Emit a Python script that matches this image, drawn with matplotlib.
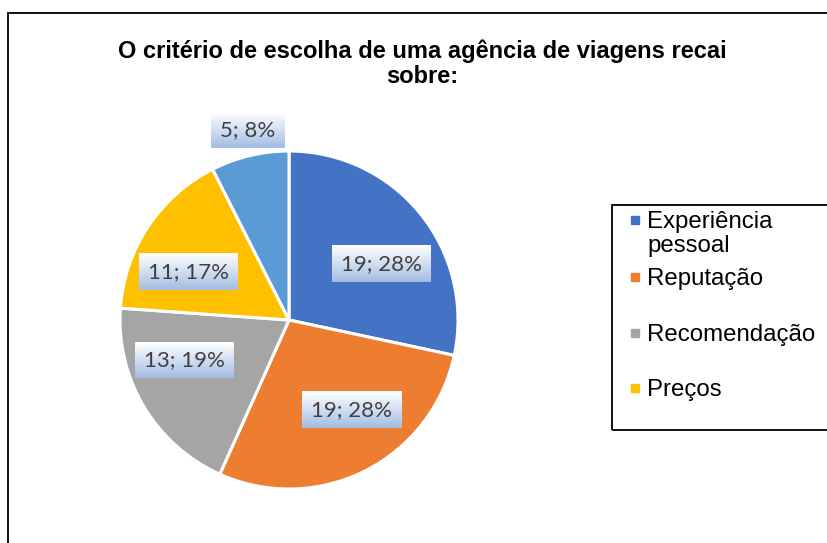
import numpy as np
import matplotlib
matplotlib.use('Agg')
import matplotlib.pyplot as plt
from matplotlib.patches import Rectangle

# data
categories = ['Experiência\npessoal', 'Reputação', 'Recomendação', 'Preços', 'Outros']
values = [19, 19, 13, 11, 5]
pct_labels = [28, 28, 19, 17, 8]
colors = ['#4472C4', '#ED7D31', '#A5A5A5', '#FFC000', '#5B9BD5']
title = 'O critério de escolha de uma agência de viagens recai\nsobre:'

W, H = 828, 543
fig = plt.figure(figsize=(W / 100, H / 100), dpi=100)

# outer chart frame (cropped on the right and bottom)
fig.patches.append(Rectangle((8 / W, -0.1), 2, 1.1 - 13 / H, transform=fig.transFigure,
                             fill=False, edgecolor='black', linewidth=1.3, clip_on=False))

cx, cy, r = 289, 320, 169
ax = fig.add_axes([(cx - r) / W, (H - cy - r) / H, 2 * r / W, 2 * r / H])
wedges, _ = ax.pie(values, colors=colors, startangle=90, counterclock=False, radius=1,
                   wedgeprops=dict(edgecolor='white', linewidth=2.2))
ax.set_xlim(-1, 1)
ax.set_ylim(-1, 1)
ax.set_aspect('equal')
ax.axis('off')

fig.text(422 / W, 1 - 64 / H, title, ha='center', va='center', fontsize=17,
         fontweight='bold', family='Liberation Sans', linespacing=1.13)

# data labels: radial distance and angular nudge per slice (layout only)
label_r = [0.64, 0.65, 0.66, 0.66, 1.15]
label_nudge = [-8, 8, -10, 8, -1]
texts = []
for w, v, p, lr, dn in zip(wedges, values, pct_labels, label_r, label_nudge):
    ang = np.deg2rad((w.theta1 + w.theta2) / 2 + dn)
    t = ax.text(lr * np.cos(ang), lr * np.sin(ang), f'{v}; {p}%', ha='center', va='center',
                fontsize=16, color='#404040', family='Lato', zorder=5, clip_on=False)
    texts.append(t)

fig.canvas.draw()
grad = np.linspace(0, 1, 64).reshape(-1, 1)
top_c = np.array([1.0, 1.0, 1.0])
bot_c = np.array([0.64, 0.74, 0.89])
img = top_c + (bot_c - top_c) * grad[..., None]
img = img.reshape(64, 1, 3)
inv = ax.transData.inverted()
for t in texts:
    bb = t.get_window_extent()
    x0, y0 = inv.transform((bb.x0 - 9, bb.y0 - 8))
    x1, y1 = inv.transform((bb.x1 + 9, bb.y1 + 8))
    ax.imshow(img, extent=(x0, x1, y0, y1), origin='upper', aspect='auto',
              zorder=4, clip_on=False, interpolation='bilinear')
ax.set_xlim(-1, 1)
ax.set_ylim(-1, 1)
ax.set_aspect('equal')

# legend (Excel layout, right side cropped)
fig.patches.append(Rectangle((612 / W, 1 - 430 / H), 0.5, 225 / H, transform=fig.transFigure,
                             fill=False, edgecolor='black', linewidth=1.3, clip_on=False))
leg_y = [220, 277, 333, 388]
for name, col, y in zip(categories[:4], colors[:4], leg_y):
    fig.patches.append(Rectangle((631 / W, 1 - (y + 4) / H), 8 / W, 8 / H,
                                 transform=fig.transFigure, color=col))
    fig.text(647 / W, 1 - (y - 9) / H, name, ha='left', va='top', fontsize=17.3,
             family='Liberation Sans', color='black', linespacing=1.1)

fig.savefig('out.png', dpi=100)
